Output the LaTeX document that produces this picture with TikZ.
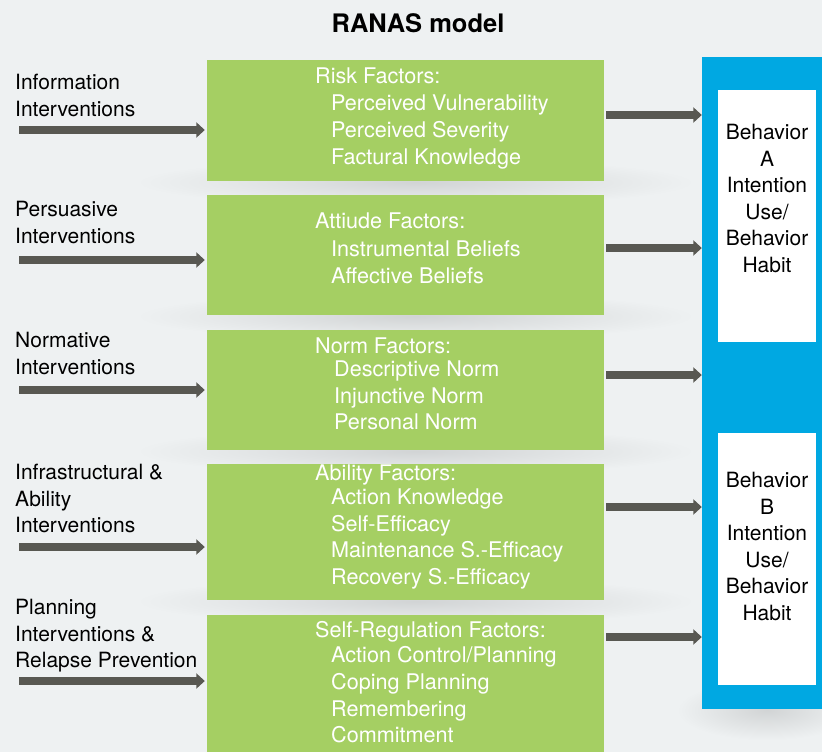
\documentclass[tikz,border=0pt]{standalone}
\usepackage{fontspec}
\setmainfont{TeX Gyre Heros}
\usetikzlibrary{arrows.meta,backgrounds}
\definecolor{bggray}{HTML}{EEF1F2}
\definecolor{factorgreen}{HTML}{A5CF63}
\definecolor{panelblue}{HTML}{00A8E2}
\definecolor{arrowgray}{HTML}{585852}
\tikzset{>=stealth,
  softshadow/.style={inner color=bggray!88!black,outer color=bggray},
  factor/.style={fill=factorgreen,minimum width=397pt,inner sep=0pt},
  factortext/.style={anchor=north west,align=left,text=white,inner sep=0pt,font=\fontsize{21.6}{26.6}\selectfont},
  ivtext/.style={anchor=north west,align=left,inner sep=0pt,font=\fontsize{21}{26.6}\selectfont},
  behavtext/.style={anchor=north,align=center,inner sep=0pt,font=\fontsize{21}{26.5}\selectfont},
  flow/.style={draw=arrowgray,line width=7.5pt,-{Triangle[length=8.5pt,width=15pt]}}
}

\begin{document}
\begin{tikzpicture}[x=1pt,y=-1pt]
\useasboundingbox (0,0) rectangle (822,752);
\clip (0,0) rectangle (822,752);
\node[anchor=base,inner sep=0pt,font=\fontsize{25.5}{30}\selectfont\bfseries] (title) at (418,33) {RANAS model};

\node[fill=panelblue,minimum width=130pt,minimum height=652pt,inner sep=0pt] (panel) at (767,383) {};
\node[fill=white,minimum width=98pt,minimum height=252pt,inner sep=0pt] (behavA) at (767,216) {};
\node[fill=white,minimum width=98pt,minimum height=252pt,inner sep=0pt] (behavB) at (767,559) {};
\node[behavtext] (behavAtext) at (767,124) {Behavior\\A\\Intention\\Use/\\Behavior\\Habit};
\node[behavtext] (behavBtext) at (767,472) {Behavior\\B\\Intention\\Use/\\Behavior\\Habit};

\node[factor,minimum height=121pt] (risk) at (405.5,120.5) {};
\node[factor,minimum height=120pt] (attit) at (405.5,255) {};
\node[factor,minimum height=120pt] (norm) at (405.5,390) {};
\node[factor,minimum height=136pt] (abil) at (405.5,532) {};
\node[factor,minimum height=155pt] (selfreg) at (405.5,692.5) {};

\node[factortext] (risktext) at (315,68) {Risk Factors:\\[0.4pt]
  \hspace*{16pt}Perceived Vulnerability\\
  \hspace*{16pt}Perceived Severity\\
  \hspace*{16pt}Factural Knowledge};
\node[factortext] (attittext) at (315,212.5) {Attiude Factors:\\[1.4pt]
  \hspace*{16pt}Instrumental Beliefs\\
  \hspace*{16pt}Affective Beliefs};
\node[factortext] (normtext) at (315,337.5) {Norm Factors:\\[-3.6pt]
  \hspace*{19pt}Descriptive Norm\\
  \hspace*{19pt}Injunctive Norm\\
  \hspace*{19pt}Personal Norm};
\node[factortext] (abiltext) at (315,464.5) {Ability Factors:\\[-2.6pt]
  \hspace*{16pt}Action Knowledge\\
  \hspace*{16pt}Self-Efficacy\\
  \hspace*{16pt}Maintenance S.-Efficacy\\
  \hspace*{16pt}Recovery S.-Efficacy};
\node[factortext] (selfregtext) at (315,621.5) {Self-Regulation Factors:\\[-1.6pt]
  \hspace*{16pt}Action Control/Planning\\
  \hspace*{16pt}Coping Planning\\
  \hspace*{16pt}Remembering\\
  \hspace*{16pt}Commitment};

\node[ivtext] (info) at (15,74) {Information\\Interventions};
\node[ivtext] (persu) at (15,201) {Persuasive\\Interventions};
\node[ivtext] (normiv) at (15,332) {Normative\\Interventions};
\node[ivtext] (infra) at (15,464) {Infrastructural \&\\Ability\\Interventions};
\node[ivtext] (plan) at (15,599) {Planning\\Interventions \&\\Relapse Prevention};

\foreach \n/\ya/\yb in {risk/130/115,attit/260/248,norm/390/375,abil/547/507,selfreg/681/637}{
  \coordinate (in-\n) at (19,\ya);
  \coordinate (out-\n) at (0,\yb);
  \draw[flow,shorten >=2pt] (in-\n) -- (in-\n -| \n.west);
  \draw[flow,shorten <=2pt] (\n.east |- out-\n) -- (panel.west |- out-\n);
}

\begin{scope}[on background layer]
\fill[bggray] (0,0) rectangle (822,752);
\foreach \n in {risk,attit,norm,abil}
  \shade[softshadow] ([xshift=10pt,yshift=-1pt]\n.south) ellipse (280pt and 24pt);
\shade[softshadow] ([yshift=-1pt]panel.south) ellipse (90pt and 30pt);
\end{scope}
\end{tikzpicture}
\end{document}
